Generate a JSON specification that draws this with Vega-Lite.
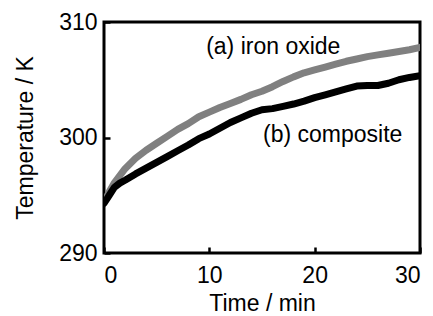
{
  "$schema": "https://vega.github.io/schema/vega-lite/v6.json",
  "width": 316,
  "height": 231,
  "autosize": {"type": "none"},
  "padding": {"left": 104, "top": 22, "right": 13, "bottom": 63},
  "background": "white",
  "config": {
    "font": "Liberation Sans",
    "view": {"stroke": "black", "strokeWidth": 3},
    "axis": {
      "domain": false,
      "grid": false,
      "offset": -6,
      "tickSize": 6,
      "tickColor": "black",
      "tickWidth": 2.5,
      "labelColor": "black",
      "titleColor": "black",
      "labelFontSize": 23,
      "titleFontSize": 23,
      "titleFontWeight": "normal",
      "labelFont": "Liberation Sans",
      "titleFont": "Liberation Sans"
    }
  },
  "datasets": {
    "curves": [
      {"t": 0, "T": 294.4, "s": "iron oxide"},
      {"t": 0.5, "T": 295.3, "s": "iron oxide"},
      {"t": 1, "T": 296.1, "s": "iron oxide"},
      {"t": 1.5, "T": 296.7, "s": "iron oxide"},
      {"t": 2, "T": 297.3, "s": "iron oxide"},
      {"t": 3, "T": 298.2, "s": "iron oxide"},
      {"t": 4, "T": 298.9, "s": "iron oxide"},
      {"t": 5, "T": 299.5, "s": "iron oxide"},
      {"t": 6, "T": 300.1, "s": "iron oxide"},
      {"t": 7, "T": 300.7, "s": "iron oxide"},
      {"t": 8, "T": 301.2, "s": "iron oxide"},
      {"t": 9, "T": 301.8, "s": "iron oxide"},
      {"t": 10, "T": 302.2, "s": "iron oxide"},
      {"t": 11, "T": 302.6, "s": "iron oxide"},
      {"t": 12, "T": 302.95, "s": "iron oxide"},
      {"t": 13, "T": 303.3, "s": "iron oxide"},
      {"t": 14, "T": 303.7, "s": "iron oxide"},
      {"t": 15, "T": 304.0, "s": "iron oxide"},
      {"t": 16, "T": 304.4, "s": "iron oxide"},
      {"t": 17, "T": 304.85, "s": "iron oxide"},
      {"t": 18, "T": 305.25, "s": "iron oxide"},
      {"t": 19, "T": 305.6, "s": "iron oxide"},
      {"t": 20, "T": 305.85, "s": "iron oxide"},
      {"t": 21, "T": 306.1, "s": "iron oxide"},
      {"t": 22, "T": 306.35, "s": "iron oxide"},
      {"t": 23, "T": 306.6, "s": "iron oxide"},
      {"t": 24, "T": 306.8, "s": "iron oxide"},
      {"t": 25, "T": 307.0, "s": "iron oxide"},
      {"t": 26, "T": 307.15, "s": "iron oxide"},
      {"t": 27, "T": 307.3, "s": "iron oxide"},
      {"t": 28, "T": 307.45, "s": "iron oxide"},
      {"t": 29, "T": 307.6, "s": "iron oxide"},
      {"t": 30, "T": 307.8, "s": "iron oxide"},
      {"t": 0, "T": 294.3, "s": "composite"},
      {"t": 0.5, "T": 295.0, "s": "composite"},
      {"t": 1, "T": 295.7, "s": "composite"},
      {"t": 1.5, "T": 296.05, "s": "composite"},
      {"t": 2, "T": 296.3, "s": "composite"},
      {"t": 3, "T": 296.85, "s": "composite"},
      {"t": 4, "T": 297.35, "s": "composite"},
      {"t": 5, "T": 297.85, "s": "composite"},
      {"t": 6, "T": 298.35, "s": "composite"},
      {"t": 7, "T": 298.85, "s": "composite"},
      {"t": 8, "T": 299.35, "s": "composite"},
      {"t": 9, "T": 299.9, "s": "composite"},
      {"t": 10, "T": 300.3, "s": "composite"},
      {"t": 11, "T": 300.8, "s": "composite"},
      {"t": 12, "T": 301.3, "s": "composite"},
      {"t": 13, "T": 301.7, "s": "composite"},
      {"t": 14, "T": 302.1, "s": "composite"},
      {"t": 15, "T": 302.4, "s": "composite"},
      {"t": 16, "T": 302.5, "s": "composite"},
      {"t": 17, "T": 302.7, "s": "composite"},
      {"t": 18, "T": 302.9, "s": "composite"},
      {"t": 19, "T": 303.15, "s": "composite"},
      {"t": 20, "T": 303.45, "s": "composite"},
      {"t": 21, "T": 303.7, "s": "composite"},
      {"t": 22, "T": 303.95, "s": "composite"},
      {"t": 23, "T": 304.2, "s": "composite"},
      {"t": 24, "T": 304.45, "s": "composite"},
      {"t": 25, "T": 304.5, "s": "composite"},
      {"t": 26, "T": 304.5, "s": "composite"},
      {"t": 27, "T": 304.7, "s": "composite"},
      {"t": 28, "T": 305.0, "s": "composite"},
      {"t": 29, "T": 305.2, "s": "composite"},
      {"t": 30, "T": 305.35, "s": "composite"}
    ],
    "labels": [
      {"t": 9.7, "T": 307.83, "label": "(a) iron oxide"},
      {"t": 15.1, "T": 300.23, "label": "(b) composite"}
    ]
  },
  "layer": [
    {
      "data": {"name": "curves"},
      "mark": {"type": "line", "strokeWidth": 7, "strokeCap": "round", "strokeJoin": "round", "clip": true},
      "encoding": {
        "x": {
          "field": "t", "type": "quantitative",
          "scale": {"domain": [0, 30], "nice": false, "zero": false},
          "axis": {"title": "Time / min", "values": [0, 10, 20, 30], "labelPadding": 11, "titlePadding": 5}
        },
        "y": {
          "field": "T", "type": "quantitative",
          "scale": {"domain": [290, 310], "nice": false, "zero": false},
          "axis": {"title": "Temperature / K", "values": [290, 300, 310], "labelPadding": 7, "titlePadding": 21}
        },
        "color": {
          "field": "s", "type": "nominal",
          "scale": {"domain": ["iron oxide", "composite"], "range": ["#808080", "#000000"]},
          "legend": null
        },
        "order": {"field": "t", "type": "quantitative"}
      }
    },
    {
      "data": {"name": "labels"},
      "mark": {"type": "text", "align": "left", "baseline": "middle", "fontSize": 23, "color": "black", "font": "Liberation Sans"},
      "encoding": {
        "x": {"field": "t", "type": "quantitative"},
        "y": {"field": "T", "type": "quantitative"},
        "text": {"field": "label"}
      }
    }
  ]
}
